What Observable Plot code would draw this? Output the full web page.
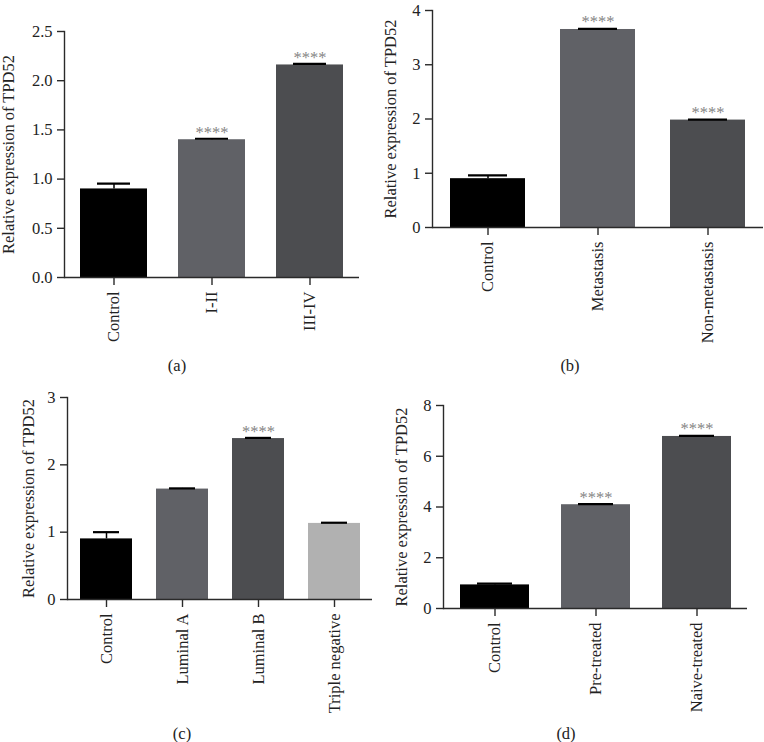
<!DOCTYPE html>
<html>
<head>
<meta charset="utf-8">
<script src="https://cdn.jsdelivr.net/npm/d3@7"></script>
<script src="https://cdn.jsdelivr.net/npm/@observablehq/plot@0.6"></script>
<style>
  html, body { margin: 0; padding: 0; background: #fff; }
  #wrap { position: relative; width: 764px; height: 742px; overflow: hidden; font-family: 'Liberation Serif', 'Times New Roman', serif; }
  .panel { position: absolute; }
  .cap { position: absolute; font-size: 16.5px; color: #222; transform: translate(-50%, -50%); white-space: nowrap; }
</style>
</head>
<body>
<div id="wrap"></div>
<script>
// ---- data ----
const yLabel = "Relative expression of TPD52";

const catsA = ["Control", "I-II", "III-IV"];
const valsA = [0.90, 1.40, 2.16];
const errsA = [0.055, 0.01, 0.01];
const sigA  = ["", "****", "****"];
const ticksA = [0, 0.5, 1.0, 1.5, 2.0, 2.5];

const catsB = ["Control", "Metastasis", "Non-metastasis"];
const valsB = [0.90, 3.65, 1.98];
const errsB = [0.06, 0.01, 0.01];
const sigB  = ["", "****", "****"];
const ticksB = [0, 1, 2, 3, 4];

const catsC = ["Control", "Luminal A", "Luminal B", "Triple negative"];
const valsC = [0.90, 1.64, 2.39, 1.13];
const errsC = [0.10, 0.01, 0.01, 0.01];
const sigC  = ["", "", "****", ""];
const ticksC = [0, 1, 2, 3];

const catsD = ["Control", "Pre-treated", "Naive-treated"];
const valsD = [0.93, 4.09, 6.78];
const errsD = [0.05, 0.02, 0.02];
const sigD  = ["", "****", "****"];
const ticksD = [0, 2, 4, 6, 8];

const captions = ["(a)", "(b)", "(c)", "(d)"];

// ---- styles ----
const pal3 = ["#000000", "#606166", "#4c4d50"];
const pal4 = ["#000000", "#606166", "#4c4d50", "#b1b1b1"];
const axisColor = "#2a2a2a";
const font = "'Liberation Serif', 'Times New Roman', serif";

function makePanel(cats, vals, errs, sig, ticks, fmt, palette, o) {
  const data = cats.map((c, i) => ({cat: c, v: vals[i], e: errs[i], s: sig[i]}));
  return Plot.plot({
    width: 382,
    height: 350,
    marginLeft: o.ml,
    marginRight: o.mr,
    marginTop: o.mt,
    marginBottom: o.mb,
    style: {fontFamily: font, fontSize: "16.5px", color: "#222", background: "transparent", overflow: "visible"},
    x: {domain: cats, paddingInner: 0.32, paddingOuter: 0.16},
    y: {domain: [0, ticks[ticks.length - 1]], nice: false},
    color: {domain: cats, range: palette},
    marks: [
      Plot.barY(data, {x: "cat", y: "v", fill: "cat"}),
      Plot.ruleX(data, {x: "cat", y1: "v", y2: d => d.v + d.e, stroke: "#000", strokeWidth: 1.5}),
      Plot.tickY(data, {x: "cat", y: d => d.v + d.e, stroke: "#000", strokeWidth: 2.2, insetLeft: o.cap, insetRight: o.cap}),
      Plot.text(data, {x: "cat", y: "v", text: "s", lineAnchor: "bottom", dy: -2, fill: "#858585", fontSize: 16.5, fontFamily: font}),
      Plot.frame({anchor: "left", stroke: axisColor, strokeWidth: 1.4}),
      Plot.ruleY([0], {stroke: axisColor, strokeWidth: 1.4}),
      Plot.axisY({ticks: ticks, tickFormat: fmt, tickSize: 7, tickPadding: 5, stroke: axisColor, strokeWidth: 1.4,
                  label: yLabel, labelAnchor: "center", labelArrow: "none", labelOffset: o.lo, fontSize: 16.5}),
      Plot.axisX({tickRotate: -90, tickSize: 8, tickPadding: 6, stroke: axisColor, strokeWidth: 1.4, label: null, fontSize: 16.5})
    ]
  });
}

const wrap = document.getElementById("wrap");
function place(node, left, top) {
  const d = document.createElement("div");
  d.className = "panel";
  d.style.left = left + "px";
  d.style.top = top + "px";
  d.appendChild(node);
  wrap.appendChild(d);
}
function caption(text, cx, cy) {
  const d = document.createElement("div");
  d.className = "cap";
  d.style.left = cx + "px";
  d.style.top = cy + "px";
  d.textContent = text;
  wrap.appendChild(d);
}

place(makePanel(catsA, valsA, errsA, sigA, ticksA, d3.format(".1f"), pal3, {ml: 64, mr: 23, mt: 31, mb: 73, lo: 62, cap: 17}), 0, 0);
place(makePanel(catsB, valsB, errsB, sigB, ticksB, d3.format("d"), pal3, {ml: 50, mr: 1, mt: 10, mb: 123, lo: 48, cap: 18}), 382, 0);
place(makePanel(catsC, valsC, errsC, sigC, ticksC, d3.format("d"), pal4, {ml: 67, mr: 10, mt: 26, mb: 122, lo: 45, cap: 13}), 0, 371);
place(makePanel(catsD, valsD, errsD, sigD, ticksD, d3.format("d"), pal3, {ml: 61, mr: 17, mt: 34, mb: 113, lo: 48, cap: 17}), 382, 371);

caption(captions[0], 177, 366);
caption(captions[1], 570, 366);
caption(captions[2], 182, 734);
caption(captions[3], 566, 734);
</script>
</body>
</html>
